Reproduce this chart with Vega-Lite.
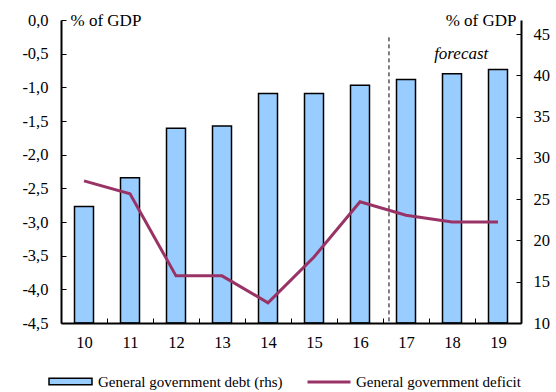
{
  "$schema": "https://vega.github.io/schema/vega-lite/v6.json",
  "width": 460,
  "height": 303,
  "autosize": "none",
  "padding": {"left": 61, "top": 20, "right": 35, "bottom": 69},
  "background": "white",
  "config": {
    "view": {"stroke": null},
    "font": "Liberation Serif",
    "axis": {
      "grid": false,
      "domainColor": "black",
      "domainWidth": 2,
      "tickColor": "black",
      "tickWidth": 1,
      "labelColor": "black",
      "titleColor": "black",
      "labelFont": "Liberation Serif",
      "titleFont": "Liberation Serif",
      "labelFontSize": 16.5,
      "titleFontSize": 17,
      "titleFontWeight": "normal"
    },
    "legend": {
      "labelFont": "Liberation Serif",
      "labelFontSize": 15,
      "labelColor": "black",
      "labelLimit": 400,
      "padding": 0
    }
  },
  "data": {
    "values": [
      {"yr": "10", "debt": 24.1, "deficit": -2.39},
      {"yr": "11", "debt": 27.6, "deficit": -2.58},
      {"yr": "12", "debt": 33.6, "deficit": -3.8},
      {"yr": "13", "debt": 33.85, "deficit": -3.8},
      {"yr": "14", "debt": 37.8, "deficit": -4.2},
      {"yr": "15", "debt": 37.8, "deficit": -3.52},
      {"yr": "16", "debt": 38.8, "deficit": -2.7},
      {"yr": "17", "debt": 39.5, "deficit": -2.9},
      {"yr": "18", "debt": 40.2, "deficit": -3.0},
      {"yr": "19", "debt": 40.7, "deficit": -3.0}
    ]
  },
  "encoding": {
    "x": {
      "field": "yr",
      "type": "ordinal",
      "scale": {"paddingInner": 0, "paddingOuter": 0},
      "axis": {
        "title": null,
        "labelAngle": 0,
        "labelFont": "Liberation Serif",
        "tickBand": "extent",
        "tickSize": -5,
        "labelPadding": 16,
        "labelBaseline": "top",
        "zindex": 1
      }
    }
  },
  "layer": [
    {
      "layer": [
        {
          "mark": {"type": "bar", "size": 19, "stroke": "black", "strokeWidth": 1.5},
          "encoding": {
            "y": {
              "field": "debt",
              "type": "quantitative",
              "scale": {"domain": [10, 46.7], "nice": false, "zero": false},
              "axis": {
                "orient": "right",
                "values": [10, 15, 20, 25, 30, 35, 40, 45],
                "labelFont": "Liberation Serif",
                "title": "% of GDP",
                "titleAngle": 0,
                "titleAlign": "right",
                "titleBaseline": "middle",
                "titleX": -5,
                "titleY": 0,
                "tickSize": -5,
                "labelPadding": 17,
                "zindex": 1
              }
            },
            "y2": {"datum": 10},
            "fill": {
              "datum": "General government debt (rhs)",
              "type": "nominal",
              "scale": {"range": ["#99CCFF"]},
              "legend": {
                "title": null,
                "orient": "none",
                "legendX": -13,
                "legendY": 339,
                "symbolType": "M-1,-0.15H1V0.15H-1Z",
                "symbolSize": 1849,
                "symbolStrokeColor": "black",
                "symbolStrokeWidth": 1.5,
                "symbolOpacity": 1,
                "labelOffset": 5
              }
            }
          }
        },
        {
          "data": {"values": [{"yr": "17", "top": 44.6, "bottom": 10}]},
          "mark": {"type": "rule", "color": "black", "strokeWidth": 1, "strokeDash": [4, 3]},
          "encoding": {
            "x": {"field": "yr", "type": "ordinal", "bandPosition": 0.13},
            "y": {"field": "top", "type": "quantitative"},
            "y2": {"field": "bottom"}
          }
        },
        {
          "data": {"values": [{"yr": "18", "label": "forecast", "pos": 42.6}]},
          "mark": {"type": "text", "fontStyle": "italic", "fontSize": 17, "font": "Liberation Serif", "color": "black", "baseline": "middle", "align": "center"},
          "encoding": {
            "x": {"field": "yr", "type": "ordinal", "bandPosition": 0.7},
            "y": {"field": "pos", "type": "quantitative"},
            "text": {"field": "label"}
          }
        }
      ]
    },
    {
      "mark": {"type": "line", "strokeWidth": 3},
      "encoding": {
        "y": {
          "field": "deficit",
          "type": "quantitative",
          "scale": {"domain": [-4.5, 0], "nice": false, "zero": false},
          "axis": {
            "orient": "left",
            "values": [0, -0.5, -1, -1.5, -2, -2.5, -3, -3.5, -4, -4.5],
            "labelExpr": "replace(replace(format(datum.value, '.1f'), '.', ','), '\u2212', '-')",
            "labelFont": "Liberation Serif",
            "title": "% of GDP",
            "titleAngle": 0,
            "titleAlign": "left",
            "titleBaseline": "middle",
            "titleX": 9,
            "titleY": 0,
            "tickSize": -5,
            "labelPadding": 18,
            "zindex": 1
          }
        },
        "stroke": {
          "datum": "General government deficit",
          "type": "nominal",
          "scale": {"range": ["#993366"]},
          "legend": {
            "title": null,
            "orient": "none",
            "legendX": 245,
            "legendY": 339,
            "symbolType": "stroke",
            "symbolSize": 1849,
            "symbolStrokeWidth": 3,
            "labelOffset": 4
          }
        }
      }
    }
  ],
  "resolve": {"scale": {"y": "independent", "fill": "independent", "stroke": "independent"}}
}
